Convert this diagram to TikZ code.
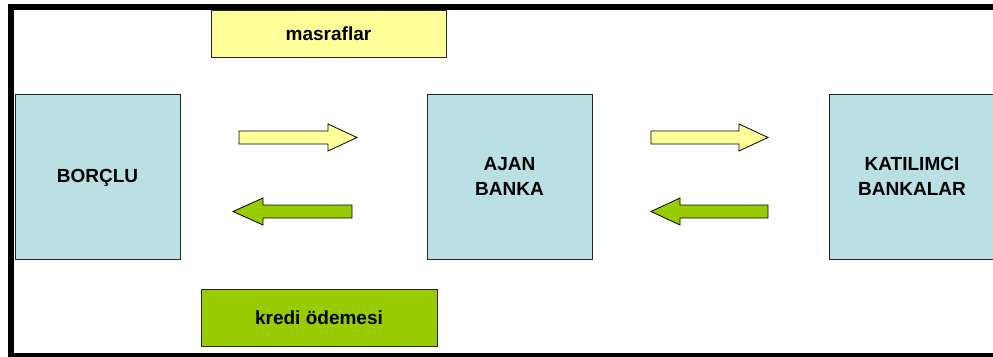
\documentclass[tikz,border=0pt]{standalone}
\usepackage{fontspec}
\setmainfont{Liberation Sans}
\begin{document}
\begin{tikzpicture}[x=1pt,y=-1pt,
  lbluebox/.style={draw=black!85,line width=1pt,fill=boxblue},
  labelbox/.style={draw=black!85,line width=1pt},
  txt/.style={font=\bfseries\fontsize{19}{25}\selectfont,align=center,text=black},
  yarrow/.style={draw=black,line width=0.8pt,fill=arrowyellow},
  garrow/.style={draw=black,line width=0.8pt,fill=arrowgreen}]
\definecolor{boxblue}{HTML}{BAE0E4}
\definecolor{arrowyellow}{HTML}{FFFF99}
\definecolor{arrowgreen}{HTML}{99CC00}
\useasboundingbox (0,0) rectangle (993,356);
% frame
\fill[black] (8,4) rectangle (993,10);
\fill[black] (8,4) rectangle (14,356);
\fill[black] (8,353) rectangle (993,359);
% boxes
\draw[lbluebox] (15,94) rectangle (180,259);
\node[txt] (borclu) at (97.5,178) {BORÇLU};
\draw[lbluebox] (427,94) rectangle (592,259);
\node[txt] (ajan) at (509.5,176.5) {AJAN\\BANKA};
\draw[lbluebox] (829,94) rectangle (1000,259);
\node[txt] (katil) at (912,176.5) {KATILIMCI\\BANKALAR};
\draw[labelbox,fill=arrowyellow] (211,10) rectangle (446,57);
\node[txt] (masraf) at (328.5,33.5) {masraflar};
\draw[labelbox,fill=arrowgreen] (201,289) rectangle (437,346);
\node[txt] (kredi) at (319,317.5) {kredi ödemesi};
% block arrows
\draw[yarrow] (239,131) -- (328,131) -- (328,124) -- (357,137.5) -- (328,151) -- (328,144) -- (239,144) -- cycle;
\draw[yarrow] (651,131) -- (739,131) -- (739,124) -- (768,137.5) -- (739,151) -- (739,144) -- (651,144) -- cycle;
\draw[garrow] (352,205) -- (263,205) -- (263,198) -- (233,211.5) -- (263,225) -- (263,218) -- (352,218) -- cycle;
\draw[garrow] (768,205) -- (680,205) -- (680,198) -- (651,211.5) -- (680,225) -- (680,218) -- (768,218) -- cycle;
\end{tikzpicture}
\end{document}
